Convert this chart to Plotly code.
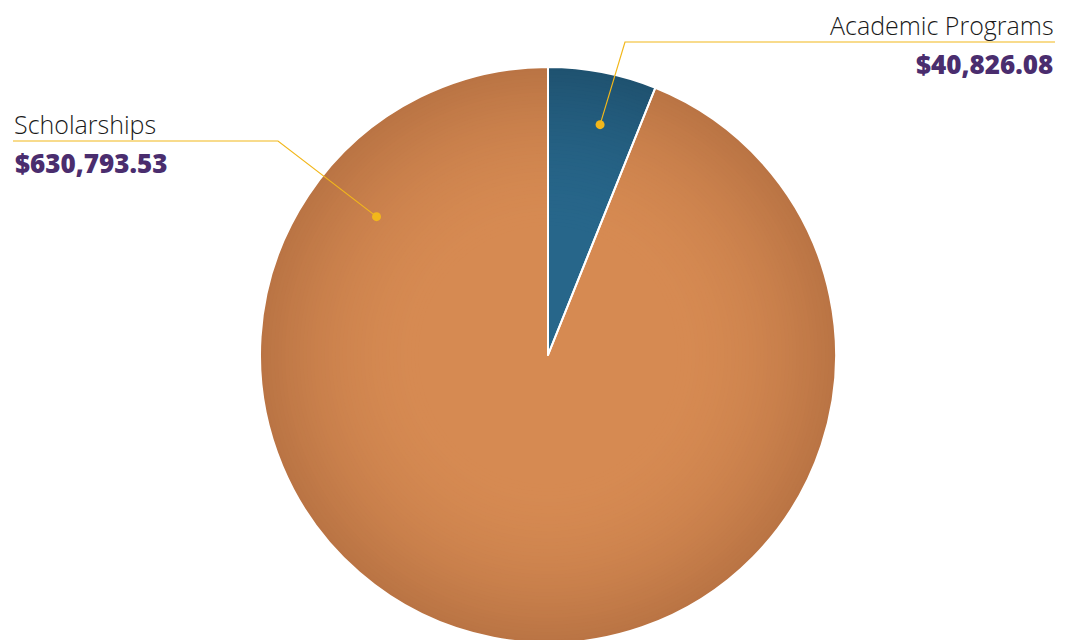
import plotly.graph_objects as go
import math

# ---- data ----
categories = ["Academic Programs", "Scholarships"]
values = [40826.08, 630793.53]
value_labels = ["$40,826.08", "$630,793.53"]

# ---- style ----
W, H = 1073, 640
OFF = 8  # page body margin offset
CX, CY_TOP, R = 548 - OFF, 355 - OFF, 288  # pixel geometry of the pie (figure coords)
edge_cols = [(0x1F, 0x52, 0x70), (0xBA, 0x74, 0x44)]
center_cols = [(0x27, 0x66, 0x8A), (0xD6, 0x8A, 0x52)]
gold = "#F2B71B"
purple = "#4A2D6E"

def blend(a, b, t):
    return "rgb(%d,%d,%d)" % tuple(round(a[i] + (b[i] - a[i]) * t) for i in range(3))

def domain_for(s):
    r = R * s
    cy = H - CY_TOP  # from bottom
    return dict(x=[(CX - r) / W, (CX + r) / W],
                y=[max(0.0, (cy - r) / H), min(1.0, (cy + r) / H)])

fig = go.Figure()
N = 45
for k in range(N):
    s = 1.0 - k * (0.55 / (N - 1))
    t = max(0.0, (s - 0.45) / 0.55) ** 1.8  # 0 center -> 1 edge
    cols = [blend(center_cols[i], edge_cols[i], t) for i in range(2)]
    fig.add_trace(go.Pie(
        labels=categories, values=values, sort=False, direction="clockwise",
        rotation=0, domain=domain_for(s), textinfo="none", hoverinfo="skip",
        marker=dict(colors=cols, line=dict(width=0)), showlegend=False,
    ))
# separator lines on top
fig.add_trace(go.Pie(
    labels=categories, values=values, sort=False, direction="clockwise",
    rotation=0, domain=domain_for(1.0), textinfo="none", hoverinfo="label+value",
    marker=dict(colors=["rgba(0,0,0,0)"] * 2, line=dict(color="white", width=2)),
    showlegend=False,
))

total = sum(values)
# leader-line anchor points (angle in degrees clockwise from top, radius fraction)
acad_angle = 360 * values[0] / total / 2 + 1.8
dot_specs = [(acad_angle, 0.82), (308.9, 0.765)]

def px_to_paper(x, y):
    return x / W, 1 - y / H

shapes = []
annotations = []
for i, (ang, rf) in enumerate(dot_specs):
    a = math.radians(ang)
    dx = CX + R * rf * math.sin(a)
    dy = CY_TOP - R * rf * math.cos(a)
    if i == 0:
        elbow = (625 - OFF, 42 - OFF)
        end = (1055 - OFF, 42 - OFF)
    else:
        elbow = (278 - OFF, 141 - OFF)
        end = (13 - OFF, 141 - OFF)
    pts = [(dx, dy), elbow, end]
    path = "M " + " L ".join("%f,%f" % px_to_paper(*p) for p in pts)
    shapes.append(dict(type="path", xref="paper", yref="paper", path=path,
                       line=dict(color=gold, width=1.2)))
    rr = 4.5
    shapes.append(dict(type="circle", xref="paper", yref="paper",
                       x0=(dx - rr) / W, x1=(dx + rr) / W,
                       y0=1 - (dy + rr) / H, y1=1 - (dy - rr) / H,
                       fillcolor=gold, line=dict(width=0)))
    xa = end[0] / W
    anchor = "right" if i == 0 else "left"
    annotations.append(dict(xref="paper", yref="paper", x=xa, y=1 - (end[1] + 1) / H,
                            text=categories[i], showarrow=False, xanchor=anchor,
                            yanchor="bottom", borderpad=0,
                            font=dict(family="Open Sans", size=25, color="#1a1a1a", weight=300)))
    annotations.append(dict(xref="paper", yref="paper", x=xa, y=1 - (end[1] + 2) / H,
                            text=value_labels[i], showarrow=False,
                            xanchor=anchor, yanchor="top",
                            font=dict(family="Open Sans", size=26, color=purple, weight=800)))

fig.update_layout(
    width=W, height=H, margin=dict(l=0, r=0, t=0, b=0),
    paper_bgcolor="white", plot_bgcolor="white",
    shapes=shapes, annotations=annotations, showlegend=False,
)
fig.write_html("out.html")
